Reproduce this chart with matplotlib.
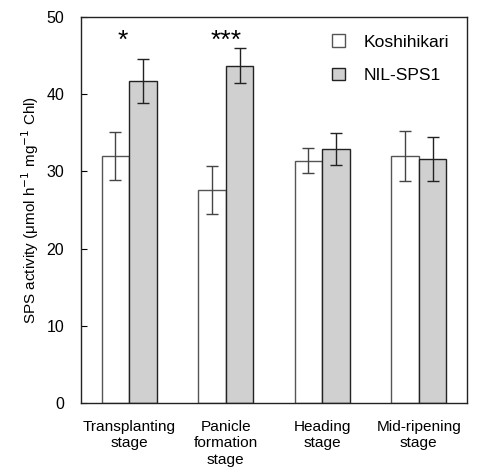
import matplotlib
matplotlib.use('Agg')
import matplotlib.pyplot as plt
import numpy as np

plt.rcParams['font.family'] = ['Liberation Sans', 'DejaVu Sans']

# data
stages = ['Transplanting\nstage', 'Panicle\nformation\nstage', 'Heading\nstage', 'Mid-ripening\nstage']
koshi = [32.0, 27.6, 31.4, 32.0]
koshi_err = [3.1, 3.1, 1.65, 3.2]
nil = [41.7, 43.7, 32.9, 31.6]
nil_err = [2.9, 2.3, 2.05, 2.9]
signif = ['*', '***', '', '']

fig = plt.figure(figsize=(5.01, 4.71), dpi=100, facecolor='white')
ax = fig.add_axes([81 / 501, 68 / 471, 386 / 501, 386 / 471])

x = np.arange(len(stages))
w = 0.285
ax.bar(x - w / 2, koshi, w, color='white', edgecolor='#555555', linewidth=1.0,
       yerr=koshi_err, error_kw=dict(ecolor='#444444', elinewidth=1.0, capsize=4, capthick=1.0),
       label='Koshihikari')
ax.bar(x + w / 2, nil, w, color='#d0d0d0', edgecolor='#222222', linewidth=1.0,
       yerr=nil_err, error_kw=dict(ecolor='#222222', elinewidth=1.0, capsize=4, capthick=1.0),
       label='NIL-SPS1')

for i, s in enumerate(signif):
    if s:
        ax.text(x[i] - 0.07 if len(s) == 1 else x[i], 46.9, s, ha='center', va='center', fontsize=19)

ax.set_xlim(-0.5, 3.5)
ax.set_ylim(0, 50)
ax.set_yticks([0, 10, 20, 30, 40, 50])
ax.set_xticks(x)
ax.set_xticklabels(stages, fontsize=11.1, linespacing=1.25)
ax.tick_params(axis='x', length=0, pad=12)
ax.tick_params(axis='y', direction='in', length=4, labelsize=11.5, pad=12)
ax.set_ylabel('SPS activity (μmol h$^{-1}$ mg$^{-1}$ Chl)', fontsize=11, labelpad=4)
for sp in ax.spines.values():
    sp.set_color('#222222')
    sp.set_linewidth(1.0)

ax.legend(loc='upper right', frameon=False, fontsize=12.6, handlelength=0.75, handleheight=0.75,
          labelspacing=1.0, handletextpad=1.1, borderaxespad=0.6)

plt.savefig('out.png', dpi=100)
